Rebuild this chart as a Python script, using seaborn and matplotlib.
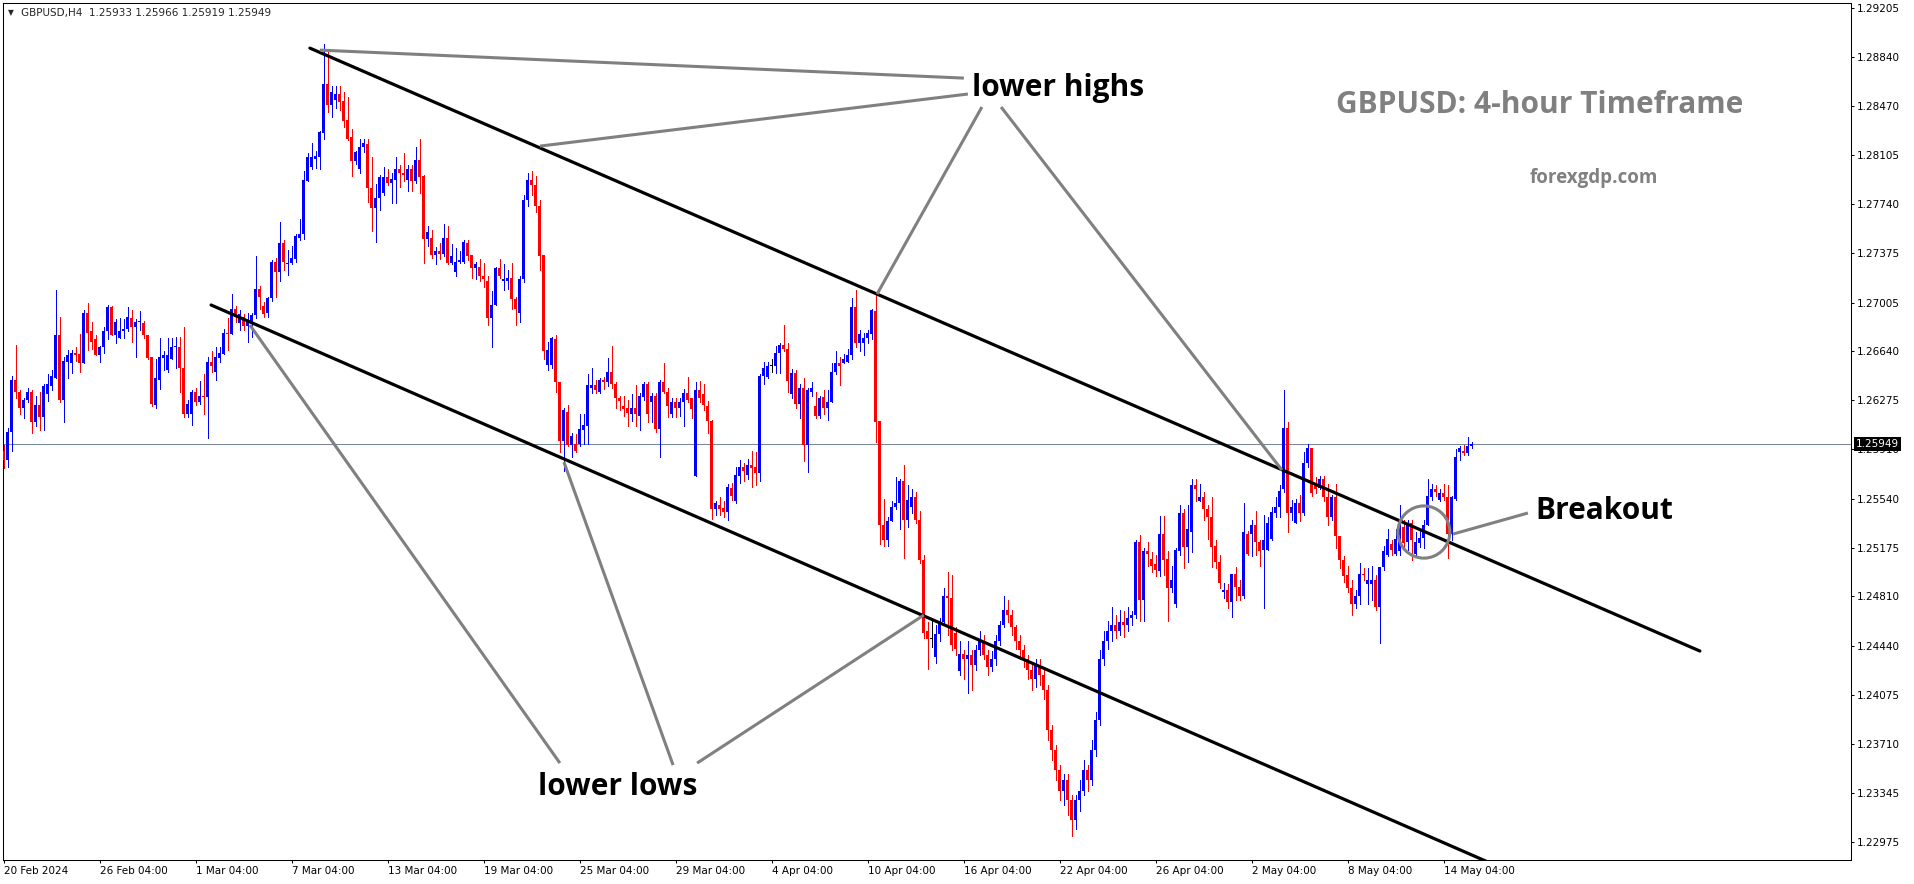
import numpy as np
import pandas as pd
import matplotlib
matplotlib.use("Agg")
import matplotlib.pyplot as plt
import seaborn as sns
from matplotlib.patches import Ellipse

# GBPUSD H4 candles (bar 0 = 20 Feb 2024)
opens = [
    1.2590, 1.2583, 1.2604, 1.2643, 1.2634, 1.2622, 1.2628, 1.2634, 1.2611, 1.2624, 1.2615, 1.2632,
    1.2638, 1.2644, 1.2676, 1.2628, 1.2656, 1.2655, 1.2663, 1.2662, 1.2655, 1.2693, 1.2679, 1.2673,
    1.2661, 1.2667, 1.2679, 1.2697, 1.2676, 1.2674, 1.2679, 1.2681, 1.2689, 1.2682, 1.2686, 1.2685,
    1.2676, 1.2660, 1.2624, 1.2643, 1.2659, 1.2650, 1.2658, 1.2667, 1.2667, 1.2652, 1.2617, 1.2617,
    1.2634, 1.2626, 1.2631, 1.2630, 1.2656, 1.2649, 1.2659, 1.2662, 1.2678, 1.2677, 1.2696, 1.2685,
    1.2690, 1.2683, 1.2686, 1.2691, 1.2711, 1.2698, 1.2693, 1.2704, 1.2731, 1.2723, 1.2745, 1.2729,
    1.2730, 1.2733, 1.2749, 1.2752, 1.2791, 1.2802, 1.2808, 1.2809, 1.2827, 1.2864, 1.2848, 1.2852,
    1.2856, 1.2851, 1.2837, 1.2824, 1.2806, 1.2800, 1.2817, 1.2819, 1.2786, 1.2771, 1.2779, 1.2782,
    1.2794, 1.2790, 1.2792, 1.2800, 1.2797, 1.2792, 1.2800, 1.2791, 1.2807, 1.2795, 1.2748, 1.2749,
    1.2736, 1.2739, 1.2737, 1.2749, 1.2730, 1.2723, 1.2731, 1.2731, 1.2745, 1.2736, 1.2726, 1.2727,
    1.2720, 1.2717, 1.2689, 1.2699, 1.2726, 1.2717, 1.2717, 1.2719, 1.2703, 1.2693, 1.2718, 1.2777,
    1.2792, 1.2788, 1.2773, 1.2736, 1.2654, 1.2654, 1.2673, 1.2641, 1.2597, 1.2619, 1.2594, 1.2595,
    1.2595, 1.2605, 1.2608, 1.2637, 1.2639, 1.2634, 1.2643, 1.2641, 1.2649, 1.2640, 1.2629, 1.2623,
    1.2622, 1.2617, 1.2622, 1.2616, 1.2630, 1.2640, 1.2626, 1.2631, 1.2606, 1.2641, 1.2634, 1.2617,
    1.2626, 1.2622, 1.2626, 1.2633, 1.2629, 1.2571, 1.2635, 1.2632, 1.2623, 1.2612, 1.2546, 1.2549,
    1.2547, 1.2544, 1.2562, 1.2552, 1.2571, 1.2578, 1.2572, 1.2579, 1.2578, 1.2573, 1.2646, 1.2645,
    1.2653, 1.2653, 1.2663, 1.2669, 1.2666, 1.2632, 1.2648, 1.2625, 1.2637, 1.2594, 1.2634, 1.2623,
    1.2616, 1.2630, 1.2622, 1.2626, 1.2649, 1.2655, 1.2655, 1.2656, 1.2661, 1.2697, 1.2670, 1.2670,
    1.2674, 1.2677, 1.2694, 1.2612, 1.2534, 1.2523, 1.2537, 1.2548, 1.2551, 1.2567, 1.2538, 1.2548,
    1.2555, 1.2538, 1.2508, 1.2455, 1.2449, 1.2436, 1.2453, 1.2462, 1.2481, 1.2480, 1.2454, 1.2425,
    1.2438, 1.2434, 1.2437, 1.2430, 1.2441, 1.2448, 1.2437, 1.2428, 1.2434, 1.2448, 1.2460, 1.2471,
    1.2467, 1.2458, 1.2448, 1.2441, 1.2434, 1.2426, 1.2419, 1.2430, 1.2422, 1.2411, 1.2381, 1.2366,
    1.2351, 1.2336, 1.2344, 1.2329, 1.2314, 1.2329, 1.2336, 1.2351, 1.2344, 1.2366, 1.2389, 1.2434,
    1.2448, 1.2455, 1.2460, 1.2455, 1.2462, 1.2460, 1.2465, 1.2467, 1.2522, 1.2478, 1.2515, 1.2509,
    1.2505, 1.2500, 1.2528, 1.2509, 1.2487, 1.2475, 1.2515, 1.2543, 1.2518, 1.2529, 1.2564, 1.2552,
    1.2555, 1.2546, 1.2540, 1.2519, 1.2507, 1.2484, 1.2486, 1.2477, 1.2498, 1.2488, 1.2481, 1.2528,
    1.2528, 1.2534, 1.2522, 1.2516, 1.2516, 1.2524, 1.2543, 1.2548, 1.2561, 1.2607, 1.2543, 1.2536,
    1.2551, 1.2543, 1.2581, 1.2592, 1.2566, 1.2562, 1.2569, 1.2555, 1.2540, 1.2555, 1.2526, 1.2508,
    1.2497, 1.2487, 1.2475, 1.2481, 1.2498, 1.2490, 1.2490, 1.2493, 1.2473, 1.2503, 1.2512, 1.2520,
    1.2513, 1.2515, 1.2533, 1.2522, 1.2536, 1.2513, 1.2521, 1.2525, 1.2534, 1.2555, 1.2561, 1.2553,
    1.2558, 1.2555, 1.2528, 1.2554, 1.2589, 1.2590, 1.2588, 1.25933,
]
highs = [
    1.2594, 1.2607, 1.2646, 1.2669, 1.2635, 1.2629, 1.2637, 1.2635, 1.2631, 1.2634, 1.2640, 1.2647,
    1.2650, 1.2710, 1.2690, 1.2660, 1.2665, 1.2665, 1.2667, 1.2677, 1.2695, 1.2700, 1.2686, 1.2676,
    1.2668, 1.2682, 1.2699, 1.2698, 1.2688, 1.2689, 1.2688, 1.2697, 1.2695, 1.2688, 1.2694, 1.2687,
    1.2676, 1.2660, 1.2658, 1.2674, 1.2664, 1.2674, 1.2674, 1.2675, 1.2675, 1.2682, 1.2628, 1.2635,
    1.2637, 1.2642, 1.2647, 1.2660, 1.2664, 1.2667, 1.2667, 1.2681, 1.2689, 1.2707, 1.2698, 1.2695,
    1.2692, 1.2693, 1.2693, 1.2735, 1.2713, 1.2701, 1.2705, 1.2732, 1.2734, 1.2761, 1.2747, 1.2740,
    1.2743, 1.2752, 1.2763, 1.2799, 1.2812, 1.2820, 1.2814, 1.2829, 1.2894, 1.2888, 1.2862, 1.2862,
    1.2862, 1.2858, 1.2854, 1.2830, 1.2814, 1.2823, 1.2823, 1.2823, 1.2809, 1.2789, 1.2796, 1.2802,
    1.2800, 1.2797, 1.2809, 1.2803, 1.2812, 1.2803, 1.2803, 1.2817, 1.2823, 1.2796, 1.2758, 1.2755,
    1.2742, 1.2745, 1.2759, 1.2758, 1.2744, 1.2741, 1.2739, 1.2747, 1.2747, 1.2736, 1.2731, 1.2733,
    1.2730, 1.2720, 1.2709, 1.2727, 1.2733, 1.2729, 1.2725, 1.2730, 1.2705, 1.2720, 1.2781, 1.2797,
    1.2799, 1.2795, 1.2777, 1.2736, 1.2671, 1.2675, 1.2676, 1.2641, 1.2622, 1.2624, 1.2603, 1.2602,
    1.2617, 1.2617, 1.2647, 1.2652, 1.2643, 1.2644, 1.2645, 1.2659, 1.2668, 1.2641, 1.2631, 1.2631,
    1.2628, 1.2632, 1.2639, 1.2633, 1.2641, 1.2641, 1.2633, 1.2633, 1.2643, 1.2655, 1.2637, 1.2629,
    1.2629, 1.2629, 1.2636, 1.2645, 1.2629, 1.2641, 1.2642, 1.2640, 1.2627, 1.2613, 1.2552, 1.2555,
    1.2552, 1.2565, 1.2566, 1.2578, 1.2583, 1.2581, 1.2584, 1.2590, 1.2589, 1.2647, 1.2656, 1.2656,
    1.2658, 1.2668, 1.2670, 1.2684, 1.2670, 1.2651, 1.2650, 1.2640, 1.2644, 1.2637, 1.2641, 1.2634,
    1.2631, 1.2635, 1.2635, 1.2655, 1.2664, 1.2660, 1.2662, 1.2666, 1.2704, 1.2710, 1.2680, 1.2678,
    1.2680, 1.2696, 1.2708, 1.2612, 1.2554, 1.2540, 1.2552, 1.2570, 1.2569, 1.2579, 1.2564, 1.2561,
    1.2559, 1.2545, 1.2512, 1.2462, 1.2463, 1.2460, 1.2465, 1.2487, 1.2499, 1.2497, 1.2458, 1.2448,
    1.2441, 1.2448, 1.2441, 1.2445, 1.2455, 1.2452, 1.2441, 1.2440, 1.2452, 1.2463, 1.2481, 1.2478,
    1.2471, 1.2460, 1.2452, 1.2445, 1.2437, 1.2430, 1.2434, 1.2434, 1.2426, 1.2415, 1.2385, 1.2370,
    1.2355, 1.2348, 1.2348, 1.2333, 1.2333, 1.2344, 1.2359, 1.2355, 1.2374, 1.2395, 1.2441, 1.2455,
    1.2463, 1.2473, 1.2467, 1.2471, 1.2470, 1.2473, 1.2470, 1.2523, 1.2527, 1.2517, 1.2522, 1.2514,
    1.2512, 1.2541, 1.2541, 1.2515, 1.2504, 1.2517, 1.2549, 1.2546, 1.2549, 1.2569, 1.2569, 1.2565,
    1.2559, 1.2549, 1.2555, 1.2523, 1.2512, 1.2491, 1.2490, 1.2498, 1.2503, 1.2493, 1.2551, 1.2530,
    1.2538, 1.2545, 1.2523, 1.2542, 1.2540, 1.2548, 1.2555, 1.2564, 1.2635, 1.2611, 1.2553, 1.2554,
    1.2557, 1.2589, 1.2595, 1.2592, 1.2570, 1.2571, 1.2571, 1.2565, 1.2557, 1.2565, 1.2526, 1.2511,
    1.2504, 1.2493, 1.2486, 1.2506, 1.2502, 1.2502, 1.2504, 1.2497, 1.2503, 1.2519, 1.2531, 1.2523,
    1.2531, 1.2549, 1.2538, 1.2538, 1.2538, 1.2529, 1.2531, 1.2538, 1.2569, 1.2565, 1.2564, 1.2561,
    1.2565, 1.2564, 1.2556, 1.2591, 1.2593, 1.2594, 1.2600, 1.25966,
]
lows = [
    1.2577, 1.2578, 1.2590, 1.2629, 1.2617, 1.2614, 1.2626, 1.2603, 1.2608, 1.2605, 1.2605, 1.2627,
    1.2635, 1.2644, 1.2626, 1.2611, 1.2644, 1.2648, 1.2657, 1.2649, 1.2655, 1.2665, 1.2666, 1.2661,
    1.2656, 1.2663, 1.2673, 1.2676, 1.2670, 1.2674, 1.2674, 1.2679, 1.2671, 1.2660, 1.2680, 1.2674,
    1.2658, 1.2623, 1.2622, 1.2636, 1.2650, 1.2649, 1.2658, 1.2652, 1.2634, 1.2615, 1.2615, 1.2609,
    1.2624, 1.2625, 1.2617, 1.2599, 1.2649, 1.2643, 1.2656, 1.2662, 1.2665, 1.2677, 1.2686, 1.2680,
    1.2680, 1.2671, 1.2675, 1.2689, 1.2696, 1.2690, 1.2690, 1.2702, 1.2705, 1.2717, 1.2725, 1.2721,
    1.2729, 1.2731, 1.2747, 1.2748, 1.2791, 1.2800, 1.2801, 1.2800, 1.2823, 1.2843, 1.2839, 1.2846,
    1.2844, 1.2832, 1.2822, 1.2795, 1.2804, 1.2797, 1.2813, 1.2776, 1.2754, 1.2746, 1.2770, 1.2781,
    1.2788, 1.2775, 1.2775, 1.2787, 1.2791, 1.2784, 1.2784, 1.2790, 1.2782, 1.2730, 1.2743, 1.2734,
    1.2729, 1.2733, 1.2735, 1.2729, 1.2729, 1.2720, 1.2730, 1.2730, 1.2732, 1.2719, 1.2718, 1.2717,
    1.2712, 1.2684, 1.2667, 1.2699, 1.2719, 1.2710, 1.2711, 1.2696, 1.2684, 1.2686, 1.2716, 1.2773,
    1.2781, 1.2768, 1.2725, 1.2658, 1.2650, 1.2652, 1.2634, 1.2589, 1.2575, 1.2593, 1.2585, 1.2589,
    1.2593, 1.2595, 1.2595, 1.2633, 1.2633, 1.2633, 1.2636, 1.2638, 1.2637, 1.2622, 1.2620, 1.2616,
    1.2608, 1.2612, 1.2608, 1.2605, 1.2628, 1.2611, 1.2611, 1.2604, 1.2585, 1.2633, 1.2615, 1.2615,
    1.2615, 1.2616, 1.2608, 1.2626, 1.2614, 1.2571, 1.2626, 1.2620, 1.2603, 1.2539, 1.2542, 1.2542,
    1.2540, 1.2538, 1.2553, 1.2551, 1.2566, 1.2567, 1.2569, 1.2563, 1.2564, 1.2567, 1.2640, 1.2644,
    1.2649, 1.2648, 1.2648, 1.2664, 1.2634, 1.2629, 1.2622, 1.2614, 1.2582, 1.2574, 1.2631, 1.2614,
    1.2614, 1.2617, 1.2613, 1.2626, 1.2647, 1.2639, 1.2655, 1.2656, 1.2658, 1.2667, 1.2664, 1.2661,
    1.2670, 1.2673, 1.2596, 1.2520, 1.2519, 1.2519, 1.2537, 1.2546, 1.2531, 1.2510, 1.2533, 1.2543,
    1.2536, 1.2506, 1.2450, 1.2427, 1.2443, 1.2431, 1.2448, 1.2460, 1.2452, 1.2441, 1.2437, 1.2422,
    1.2419, 1.2409, 1.2411, 1.2426, 1.2437, 1.2434, 1.2422, 1.2425, 1.2430, 1.2445, 1.2458, 1.2462,
    1.2452, 1.2442, 1.2434, 1.2428, 1.2419, 1.2411, 1.2413, 1.2415, 1.2404, 1.2374, 1.2359, 1.2344,
    1.2329, 1.2325, 1.2318, 1.2302, 1.2307, 1.2321, 1.2333, 1.2336, 1.2340, 1.2362, 1.2385, 1.2430,
    1.2442, 1.2448, 1.2450, 1.2452, 1.2451, 1.2455, 1.2460, 1.2465, 1.2463, 1.2463, 1.2504, 1.2499,
    1.2496, 1.2496, 1.2497, 1.2463, 1.2484, 1.2473, 1.2512, 1.2502, 1.2507, 1.2514, 1.2552, 1.2552,
    1.2538, 1.2524, 1.2503, 1.2502, 1.2487, 1.2480, 1.2472, 1.2466, 1.2478, 1.2478, 1.2480, 1.2512,
    1.2511, 1.2512, 1.2504, 1.2472, 1.2516, 1.2523, 1.2540, 1.2540, 1.2559, 1.2529, 1.2538, 1.2536,
    1.2537, 1.2542, 1.2578, 1.2556, 1.2558, 1.2561, 1.2552, 1.2534, 1.2538, 1.2517, 1.2502, 1.2492,
    1.2484, 1.2467, 1.2472, 1.2475, 1.2493, 1.2475, 1.2478, 1.2471, 1.2446, 1.2501, 1.2511, 1.2512,
    1.2512, 1.2512, 1.2516, 1.2516, 1.2508, 1.2511, 1.2518, 1.2517, 1.2534, 1.2553, 1.2556, 1.2552,
    1.2553, 1.2510, 1.2523, 1.2553, 1.2583, 1.2587, 1.2587, 1.25919,
]
closes = [
    1.2583, 1.2604, 1.2643, 1.2634, 1.2622, 1.2628, 1.2634, 1.2611, 1.2624, 1.2615, 1.2638, 1.2640,
    1.2646, 1.2676, 1.2628, 1.2657, 1.2661, 1.2663, 1.2661, 1.2655, 1.2693, 1.2678, 1.2671, 1.2661,
    1.2667, 1.2679, 1.2697, 1.2676, 1.2686, 1.2679, 1.2681, 1.2690, 1.2682, 1.2686, 1.2687, 1.2676,
    1.2659, 1.2625, 1.2644, 1.2660, 1.2661, 1.2661, 1.2667, 1.2668, 1.2652, 1.2617, 1.2625, 1.2634,
    1.2626, 1.2631, 1.2630, 1.2656, 1.2653, 1.2660, 1.2663, 1.2678, 1.2677, 1.2696, 1.2692, 1.2692,
    1.2683, 1.2686, 1.2691, 1.2711, 1.2705, 1.2692, 1.2704, 1.2731, 1.2723, 1.2745, 1.2731, 1.2730,
    1.2734, 1.2750, 1.2752, 1.2792, 1.2809, 1.2809, 1.2810, 1.2828, 1.2864, 1.2848, 1.2858, 1.2856,
    1.2850, 1.2836, 1.2823, 1.2806, 1.2813, 1.2817, 1.2820, 1.2786, 1.2771, 1.2779, 1.2794, 1.2794,
    1.2790, 1.2793, 1.2800, 1.2797, 1.2796, 1.2800, 1.2791, 1.2807, 1.2794, 1.2748, 1.2753, 1.2736,
    1.2739, 1.2737, 1.2749, 1.2730, 1.2735, 1.2731, 1.2732, 1.2746, 1.2735, 1.2726, 1.2729, 1.2720,
    1.2718, 1.2689, 1.2699, 1.2726, 1.2720, 1.2718, 1.2719, 1.2703, 1.2696, 1.2718, 1.2777, 1.2792,
    1.2788, 1.2773, 1.2735, 1.2664, 1.2665, 1.2674, 1.2641, 1.2597, 1.2620, 1.2594, 1.2601, 1.2590,
    1.2606, 1.2609, 1.2639, 1.2639, 1.2635, 1.2643, 1.2641, 1.2649, 1.2640, 1.2629, 1.2627, 1.2621,
    1.2618, 1.2622, 1.2617, 1.2631, 1.2640, 1.2617, 1.2631, 1.2606, 1.2641, 1.2634, 1.2623, 1.2626,
    1.2622, 1.2626, 1.2633, 1.2628, 1.2621, 1.2635, 1.2629, 1.2624, 1.2612, 1.2546, 1.2551, 1.2546,
    1.2544, 1.2563, 1.2556, 1.2572, 1.2578, 1.2575, 1.2579, 1.2577, 1.2573, 1.2646, 1.2652, 1.2653,
    1.2653, 1.2663, 1.2669, 1.2666, 1.2642, 1.2648, 1.2625, 1.2637, 1.2594, 1.2635, 1.2637, 1.2616,
    1.2629, 1.2622, 1.2626, 1.2649, 1.2655, 1.2653, 1.2658, 1.2661, 1.2697, 1.2670, 1.2677, 1.2674,
    1.2678, 1.2695, 1.2611, 1.2534, 1.2523, 1.2537, 1.2548, 1.2551, 1.2567, 1.2538, 1.2553, 1.2555,
    1.2538, 1.2508, 1.2454, 1.2449, 1.2449, 1.2453, 1.2462, 1.2481, 1.2480, 1.2445, 1.2442, 1.2438,
    1.2434, 1.2437, 1.2430, 1.2441, 1.2448, 1.2437, 1.2428, 1.2434, 1.2448, 1.2460, 1.2471, 1.2467,
    1.2458, 1.2448, 1.2441, 1.2434, 1.2426, 1.2419, 1.2430, 1.2422, 1.2411, 1.2381, 1.2366, 1.2351,
    1.2336, 1.2344, 1.2329, 1.2314, 1.2329, 1.2336, 1.2351, 1.2344, 1.2366, 1.2389, 1.2434, 1.2448,
    1.2455, 1.2460, 1.2455, 1.2462, 1.2460, 1.2465, 1.2467, 1.2522, 1.2478, 1.2515, 1.2513, 1.2504,
    1.2501, 1.2528, 1.2508, 1.2487, 1.2493, 1.2516, 1.2543, 1.2518, 1.2531, 1.2564, 1.2561, 1.2555,
    1.2546, 1.2540, 1.2518, 1.2507, 1.2491, 1.2486, 1.2477, 1.2498, 1.2488, 1.2481, 1.2529, 1.2513,
    1.2534, 1.2522, 1.2515, 1.2523, 1.2536, 1.2544, 1.2548, 1.2560, 1.2607, 1.2543, 1.2548, 1.2551,
    1.2543, 1.2581, 1.2592, 1.2558, 1.2561, 1.2569, 1.2555, 1.2540, 1.2555, 1.2526, 1.2508, 1.2496,
    1.2487, 1.2475, 1.2481, 1.2498, 1.2497, 1.2493, 1.2493, 1.2473, 1.2503, 1.2515, 1.2524, 1.2516,
    1.2524, 1.2535, 1.2521, 1.2535, 1.2523, 1.2522, 1.2525, 1.2534, 1.2556, 1.2561, 1.2559, 1.2558,
    1.2555, 1.2528, 1.2555, 1.2585, 1.2592, 1.2588, 1.2593, 1.25949,
]

date_labels = ["20 Feb 2024", "26 Feb 04:00", "1 Mar 04:00", "7 Mar 04:00", "13 Mar 04:00",
               "19 Mar 04:00", "25 Mar 04:00", "29 Mar 04:00", "4 Apr 04:00", "10 Apr 04:00",
               "16 Apr 04:00", "22 Apr 04:00", "26 Apr 04:00", "2 May 04:00", "8 May 04:00",
               "14 May 04:00"]
date_bars = [0, 24, 48, 72, 96, 120, 144, 168, 192, 216, 240, 264, 288, 312, 336, 360]
price_ticks = [1.29205, 1.28840, 1.28470, 1.28105, 1.27740, 1.27375, 1.27005, 1.26640, 1.26275,
               1.25910, 1.25540, 1.25175, 1.24810, 1.24440, 1.24075, 1.23710, 1.23345, 1.22975]
last_price = 1.25949

# channel lines (bar index, price)
upper_bars = [76.6, 424.1]
upper_prices = [1.28906, 1.24402]
lower_bars = [51.9, 371.1]
lower_prices = [1.26987, 1.22826]

# grey pointer lines from the notes
pointer_bars = [[79.1, 240.1], [134.1, 241.1], [218.4, 244.6], [249.4, 319.6],
                [61.6, 139.1], [140.1, 167.4], [230.1, 173.4], [362.4, 381.1]]
pointer_prices = [[1.28891, 1.28682], [1.28174, 1.28563], [1.27069, 1.28466], [1.28466, 1.25754],
                  [1.26837, 1.23565], [1.25814, 1.23550], [1.24671, 1.23565], [1.25276, 1.25433]]
breakout_bar, breakout_price = 355.1, 1.25291

df = pd.DataFrame({"open": opens, "high": highs, "low": lows, "close": closes})
df["bar"] = np.arange(len(df))
df["color"] = np.select([df.close > df.open, df.close < df.open], ["#0000ff", "#ff0000"], default="#000000")
df["top"] = df[["open", "high", "close"]].max(axis=1)
df["bottom"] = df[["open", "low", "close"]].min(axis=1)

sns.set_style("white")
plt.rcParams["font.family"] = ["DejaVu Sans"]

W, H = 1914, 884
fig = plt.figure(figsize=(W / 100, H / 100), dpi=100)
ax = fig.add_axes([3 / W, 24 / H, 1848 / W, 857 / H])

ax.axhline(last_price, color="#778899", lw=0.75, zorder=1)

# candles
ax.vlines(df["bar"], df["bottom"], df["top"], colors=df["color"], linewidth=0.7,
          antialiased=False, zorder=2)
body = (df["close"] - df["open"]).abs().clip(lower=0.00008)
ax.bar(df["bar"], body, bottom=df[["open", "close"]].min(axis=1), width=0.75,
       color=df["color"], linewidth=0, antialiased=False, zorder=3)

# channel
sns.lineplot(x=upper_bars, y=upper_prices, ax=ax, color="black", linewidth=2.3, zorder=4)
sns.lineplot(x=lower_bars, y=lower_prices, ax=ax, color="black", linewidth=2.3, zorder=4)

for xs, ys in zip(pointer_bars, pointer_prices):
    ax.plot(xs, ys, color="#808080", linewidth=2.2, solid_capstyle="butt", zorder=5)
ax.add_patch(Ellipse((breakout_bar, breakout_price), width=13, height=0.0039, fill=False,
                     ec="#808080", lw=2.2, zorder=5))

ax.set_xlim(-0.125, -0.125 + 1848 / 4)
ax.set_ylim(1.22841, 1.29243)

ax.yaxis.tick_right()
ax.set_yticks(price_ticks)
ax.set_yticklabels([f"{p:.5f}" for p in price_ticks])
ax.set_xticks(date_bars)
ax.set_xticklabels(date_labels, ha="left")
ax.tick_params(axis="both", direction="out", length=2.2, width=0.75, color="black",
               labelsize=7.5, pad=2, labelcolor="black")
ax.tick_params(axis="y", left=False, right=True)
ax.tick_params(axis="x", bottom=True)
for s in ax.spines.values():
    s.set_color("black")
    s.set_linewidth(0.75)

ax.annotate(f"{last_price:.5f}", xy=(1, last_price), xycoords=("axes fraction", "data"),
            xytext=(3.6, 0), textcoords="offset points", color="white", fontsize=7.5,
            va="center", ha="left", annotation_clip=False, zorder=10,
            bbox=dict(boxstyle="square,pad=0.2", fc="black", ec="none"))

# header and notes
fig.text(8 / W, 1 - 13 / H, "\u25bc", fontsize=5.5, va="center", ha="left")
fig.text(21 / W, 1 - 13 / H, "GBPUSD,H4  1.25933 1.25966 1.25919 1.25949", fontsize=7.5,
         va="center", ha="left")

note = dict(family="Open Sans", fontweight="bold", fontsize=21.5, ha="center", va="center")
fig.text(1058 / W, 1 - 88 / H, "lower highs", color="black", **note)
fig.text(618 / W, 1 - 787 / H, "lower lows", color="black", **note)
fig.text(1604 / W, 1 - 511 / H, "Breakout", color="black", **note)
fig.text(1540 / W, 1 - 105 / H, "GBPUSD: 4-hour Timeframe", color="#808080", **note)
fig.text(1594 / W, 1 - 178 / H, "forexgdp.com", color="#808080",
         **{**note, "fontsize": 13.5})

fig.savefig("out.png", dpi=100, facecolor="white")
